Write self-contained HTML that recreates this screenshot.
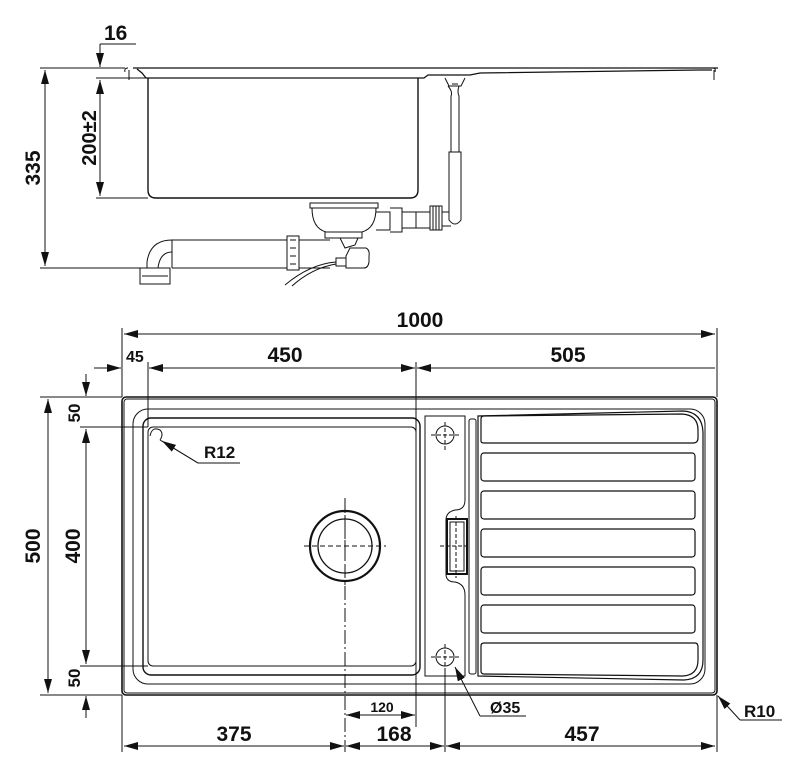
<!DOCTYPE html>
<html><head><meta charset="utf-8"><style>
html,body{margin:0;padding:0;background:#fff}
svg{display:block}
text{font-family:"Liberation Sans",sans-serif;font-weight:bold;fill:#111}
</style></head><body>
<svg width="800" height="771" viewBox="0 0 800 771" xmlns="http://www.w3.org/2000/svg">
<defs>
<marker id="a" viewBox="0 0 14 8" refX="14" refY="4" markerWidth="14" markerHeight="8" markerUnits="userSpaceOnUse" orient="auto-start-reverse">
<path d="M0,0 L14,4 L0,8 Z" fill="#111"/></marker>
</defs>
<g stroke="#111" fill="none" stroke-width="1">
<line x1="40" y1="68" x2="125" y2="68"/>
<line x1="40" y1="268" x2="145" y2="268"/>
<line x1="45" y1="70" x2="45" y2="266" marker-start="url(#a)" marker-end="url(#a)"/>
<line x1="96" y1="78" x2="146" y2="78"/>
<line x1="96" y1="198" x2="148" y2="198"/>
<line x1="100" y1="80" x2="100" y2="196" marker-start="url(#a)" marker-end="url(#a)"/>
<line x1="100" y1="44" x2="136" y2="44"/>
<line x1="100" y1="44" x2="100" y2="67" marker-end="url(#a)"/>
<path d="M133,68 L718,68 M137,69 L142,73 L146,78 L424,78 L428,75 L470,75 L480,73 L700,70 L712,70" stroke-width="1.3"/>
<path d="M125,72 Q124,68 128,68 M129,70 L129,80 M715,72 Q716,68 713,68 M714,70 L714,80"/>
<path d="M148,78 L148,190 Q148,198 156,198 L410,198 Q418,198 418,190 L418,78" stroke-width="1.4"/>
<path d="M445,78 L449,86 L461,86 L465,78 M448,86 Q453,92 451,96 L451,152 M459,86 Q457,92 459,96 L459,152 M449,152 L449,220 Q455,228 461,220 L461,152 Z"/>
<path d="M452,84 L458,84"/>
<path d="M310,203 L378,203 L378,208 L310,208 Z M312,208 Q312,228 326,232 L362,232 Q376,228 376,208 M325,232 L325,238 L362,238 L362,232"/>
<path d="M340,238 L345,248 L355,245 L358,238"/>
<path d="M350,248 L366,248 Q370,250 369,256 L369,262 Q368,268 364,268 L346,268 L346,256 Z"/>
<path d="M336,258 L346,258 L346,266 L336,266 Z"/>
<path d="M336,262 Q310,264 285,285 M336,264 Q312,268 292,286"/>
<path d="M376,212 L390,212 L390,230 L376,230 M390,208 L402,208 L402,232 L390,232 M402,212 L416,212 L416,228 L402,228 M416,212 L430,212 L430,228 L416,228"/>
<rect x="430" y="206" width="12" height="24" fill="#fff"/>
<line x1="433" y1="206" x2="433" y2="230"/><line x1="436" y1="206" x2="436" y2="230"/><line x1="439" y1="206" x2="439" y2="230"/>
<path d="M442,212 L449,212 M442,226 L451,226"/>
<path d="M172,240 L330,240 M172,268 L330,268 M172,240 L172,268"/>
<path d="M172,240 Q150,240 147,262 L147,268 M172,252 Q160,252 158,268"/>
<path d="M140,268 L170,268 L170,284 L140,284 Z M142,276 L168,276"/>
<rect x="287" y="236" width="12" height="34" fill="#fff"/>
<line x1="290" y1="240" x2="296" y2="240"/><line x1="290" y1="248" x2="296" y2="248"/><line x1="290" y1="256" x2="296" y2="256"/><line x1="290" y1="264" x2="296" y2="264"/>

<line x1="122" y1="328" x2="122" y2="397"/>
<line x1="717" y1="328" x2="717" y2="397"/>
<line x1="148" y1="362" x2="148" y2="427"/>
<line x1="416" y1="362" x2="416" y2="727"/>
<line x1="122" y1="695" x2="122" y2="752"/>
<line x1="717" y1="695" x2="717" y2="752"/>
<line x1="345" y1="498" x2="345" y2="752" stroke-dasharray="14,3,2,3"/>
<line x1="445" y1="670" x2="445" y2="752"/>
<line x1="124" y1="334" x2="715" y2="334" marker-start="url(#a)" marker-end="url(#a)"/>
<line x1="94" y1="368" x2="121" y2="368" marker-end="url(#a)"/>
<line x1="149" y1="368" x2="415" y2="368" marker-start="url(#a)" marker-end="url(#a)"/>
<line x1="417" y1="368" x2="715" y2="368" marker-start="url(#a)"/>
<line x1="40" y1="397" x2="122" y2="397"/>
<line x1="40" y1="695" x2="122" y2="695"/>
<line x1="80" y1="427" x2="148" y2="427"/>
<line x1="80" y1="666" x2="148" y2="666"/>
<line x1="48" y1="399" x2="48" y2="693" marker-start="url(#a)" marker-end="url(#a)"/>
<line x1="86" y1="429" x2="86" y2="664" marker-start="url(#a)" marker-end="url(#a)"/>
<line x1="86" y1="374" x2="86" y2="396" marker-end="url(#a)"/>
<line x1="86" y1="718" x2="86" y2="696" marker-end="url(#a)"/>
<line x1="124" y1="746" x2="344" y2="746" marker-start="url(#a)" marker-end="url(#a)"/>
<line x1="346" y1="746" x2="444" y2="746" marker-start="url(#a)" marker-end="url(#a)"/>
<line x1="446" y1="746" x2="715" y2="746" marker-start="url(#a)" marker-end="url(#a)"/>
<line x1="346" y1="715" x2="415" y2="715" marker-start="url(#a)" marker-end="url(#a)"/>
<rect x="122" y="397" width="595" height="298" rx="4" stroke-width="1.6"/>
<rect x="124" y="399" width="591" height="294" rx="3"/>
<rect x="133" y="409" width="572" height="275" rx="15"/>
<rect x="143" y="418" width="277" height="257" rx="8" stroke-width="1.4"/>
<rect x="148" y="427" width="268" height="239" rx="5"/>
<path d="M150,436 Q152,426 160,430 Q164,434 160,440"/>
<path d="M160,440 L198,463 L240,463"/>
<line x1="198" y1="463" x2="162" y2="441" marker-end="url(#a)"/>
<circle cx="345" cy="546" r="35" stroke-width="2.2"/>
<circle cx="345" cy="546" r="27" stroke-width="1.3"/>
<line x1="304" y1="546" x2="386" y2="546" stroke-dasharray="5,3"/>
<line x1="345" y1="500" x2="345" y2="590" stroke-dasharray="5,3"/>
<path d="M425,416 L465,416 L465,500 Q465,510 455,510 Q446,512 446,520 L446,574 Q446,582 455,582 Q465,584 465,595 L465,676 L425,676 Z"/>
<rect x="447" y="519" width="20" height="55" stroke-width="2"/>
<rect x="450" y="522" width="14" height="49"/>
<line x1="456" y1="516" x2="456" y2="578" stroke-dasharray="4,2"/>
<line x1="440" y1="546" x2="470" y2="546" stroke-dasharray="4,2"/>
<circle cx="445" cy="435" r="9"/>
<line x1="445" y1="422" x2="445" y2="452" stroke-dasharray="4,2"/>
<line x1="431" y1="435" x2="459" y2="435" stroke-dasharray="4,2"/>
<circle cx="445" cy="657" r="9"/>
<line x1="445" y1="644" x2="445" y2="670" stroke-dasharray="4,2"/>
<line x1="431" y1="657" x2="459" y2="657" stroke-dasharray="4,2"/>
<path d="M480,716 L526,716"/>
<line x1="480" y1="716" x2="455" y2="667" marker-end="url(#a)"/>
<rect x="469" y="419" width="7" height="255" rx="2"/>
<path d="M478,416 L478,676 L684,680 Q703,679 703,660 L703,432 Q702,412 683,411 Z" stroke-width="1.2"/>
<g stroke-width="1.2">
<path d="M481,441 L481,419 Q481,416 484,416 L682,414 Q698,415 698,430 L698,438 Q698,443 693,443 L484,443 Q481,443 481,441 Z"/>
<rect x="481" y="453" width="214" height="28" rx="3"/>
<rect x="481" y="491" width="214" height="28" rx="3"/>
<rect x="481" y="529" width="214" height="28" rx="3"/>
<rect x="481" y="567" width="214" height="28" rx="3"/>
<rect x="481" y="605" width="214" height="28" rx="3"/>
<path d="M484,643 L695,643 Q698,643 698,647 L698,660 Q698,675 683,676 L484,674 Q481,674 481,671 L481,646 Q481,643 484,643 Z"/>
</g>
<path d="M740,720 L782,720"/>
<line x1="740" y1="720" x2="718" y2="696" marker-end="url(#a)"/>
</g>
<text x="104" y="40" font-size="21">16</text>
<text transform="translate(40,168) rotate(-90)" text-anchor="middle" font-size="21">335</text>
<text transform="translate(96,138) rotate(-90)" text-anchor="middle" font-size="20">200±2</text>
<text x="420" y="327" text-anchor="middle" font-size="21">1000</text>
<text x="126" y="362" font-size="16">45</text>
<text x="285" y="362" text-anchor="middle" font-size="21">450</text>
<text x="568" y="362" text-anchor="middle" font-size="21">505</text>
<text transform="translate(40,546) rotate(-90)" text-anchor="middle" font-size="21">500</text>
<text transform="translate(80,546) rotate(-90)" text-anchor="middle" font-size="21">400</text>
<text transform="translate(80,413) rotate(-90)" text-anchor="middle" font-size="17">50</text>
<text transform="translate(80,678) rotate(-90)" text-anchor="middle" font-size="17">50</text>
<text x="204" y="458" font-size="17">R12</text>
<text x="382" y="712" text-anchor="middle" font-size="14">120</text>
<text x="234" y="741" text-anchor="middle" font-size="21">375</text>
<text x="394" y="741" text-anchor="middle" font-size="21">168</text>
<text x="582" y="741" text-anchor="middle" font-size="21">457</text>
<text x="490" y="713" font-size="16">Ø35</text>
<text x="744" y="717" font-size="17">R10</text>
</svg>
</body></html>
